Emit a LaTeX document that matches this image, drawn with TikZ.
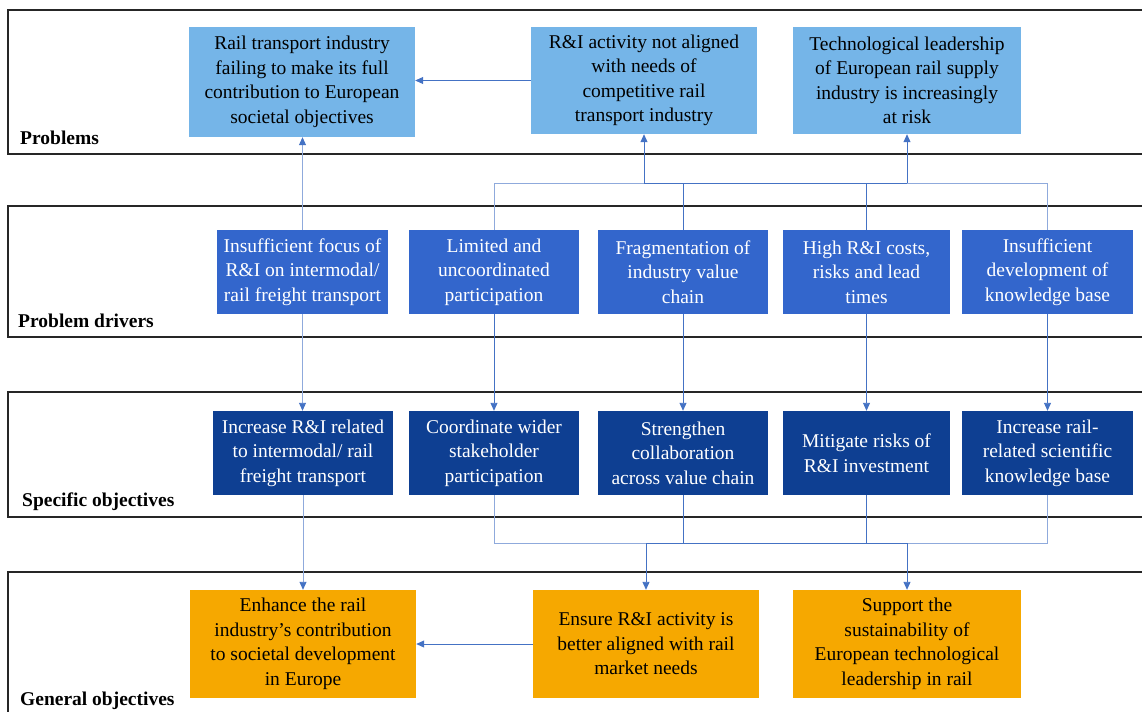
\documentclass[tikz,border=0pt]{standalone}
\usepackage{fontspec}
\setmainfont{Liberation Serif}
\usetikzlibrary{arrows.meta}
\definecolor{probblue}{RGB}{117,181,232}
\definecolor{drvblue}{RGB}{51,102,204}
\definecolor{specblue}{RGB}{14,63,146}
\definecolor{genorange}{RGB}{246,168,0}
\definecolor{linkblue}{RGB}{68,114,196}
\definecolor{buslight}{RGB}{143,170,220}
\begin{document}
\begin{tikzpicture}[x=1pt,y=-1pt,
  band/.style={draw=black!85, line width=1.5pt},
  bandlabel/.style={anchor=base west, inner sep=0pt, font=\fontsize{19.5}{24}\selectfont\bfseries},
  boxtext/.style={inner sep=0pt, align=center, font=\fontsize{19.5}{24.5}\selectfont},
  probbox/.style={boxtext, fill=probblue, text=black, minimum height=107pt},
  drvbox/.style={boxtext, fill=drvblue, text=white, minimum height=84pt},
  specbox/.style={boxtext, fill=specblue, text=white, minimum height=84pt},
  genbox/.style={boxtext, fill=genorange, text=black, minimum height=108pt},
  arr/.style={draw=linkblue, line width=0.9pt, -{Triangle[length=8pt,width=7pt]}},
  arrlight/.style={draw=buslight, line width=0.9pt, -{Triangle[length=8pt,width=7pt,color=linkblue]}},
  link/.style={draw=buslight, line width=0.9pt},
  linkdark/.style={draw=linkblue, line width=0.9pt}]
\useasboundingbox (0,0) rectangle (1142,712);
% bands
\draw[band] (1142,10) -- (8,10) -- (8,154) -- (1142,154);
\draw[band] (1142,206) -- (8,206) -- (8,337) -- (1142,337);
\draw[band] (1142,392) -- (8,392) -- (8,517) -- (1142,517);
\draw[band] (1142,572) -- (8,572) -- (8,712);
\node[bandlabel] (lprob) at (20,144) {Problems};
\node[bandlabel] (ldrv) at (18,327) {Problem drivers};
\node[bandlabel] (lspec) at (22,506) {Specific objectives};
\node[bandlabel] (lgen) at (20,705) {General objectives};
% problems
\node[probbox, minimum width=226pt, minimum height=110pt] (prob1) at (302,82) {Rail transport industry\\failing to make its full\\contribution to European\\societal objectives};
\node[probbox, minimum width=226pt] (prob2) at (644,80.5) {R\&I activity not aligned\\with needs of\\competitive rail\\transport industry};
\node[probbox, minimum width=228pt] (prob3) at (907,80.5) {Technological leadership\\of European rail supply\\industry is increasingly\\at risk};
% problem drivers
\node[drvbox, minimum width=171pt] (drv1) at (302.5,272) {Insufficient focus of\\R\&I on intermodal/\\rail freight transport};
\node[drvbox, minimum width=170pt] (drv2) at (494,272) {Limited and\\uncoordinated\\participation};
\node[drvbox, minimum width=170pt] (drv3) at (683,272) {Fragmentation of\\industry value\\chain};
\node[drvbox, minimum width=167pt] (drv4) at (866.5,272) {High R\&I costs,\\risks and lead\\times};
\node[drvbox, minimum width=171pt] (drv5) at (1047.5,272) {Insufficient\\development of\\knowledge base};
% specific objectives
\node[specbox, minimum width=180pt] (spec1) at (303,453) {Increase R\&I related\\to intermodal/ rail\\freight transport};
\node[specbox, minimum width=170pt] (spec2) at (494,453) {Coordinate wider\\stakeholder\\participation};
\node[specbox, minimum width=170pt] (spec3) at (683,453) {Strengthen\\collaboration\\across value chain};
\node[specbox, minimum width=167pt] (spec4) at (866.5,453) {Mitigate risks of\\R\&I investment};
\node[specbox, minimum width=171pt] (spec5) at (1047.5,453) {Increase rail-\\related scientific\\knowledge base};
% general objectives
\node[genbox, minimum width=226pt] (gen1) at (303,644) {Enhance the rail\\industry’s contribution\\to societal development\\in Europe};
\node[genbox, minimum width=226pt] (gen2) at (646,644) {Ensure R\&I activity is\\better aligned with rail\\market needs};
\node[genbox, minimum width=228pt] (gen3) at (907,644) {Support the\\sustainability of\\European technological\\leadership in rail};
\coordinate (upbus) at (0,183);
\coordinate (lowbus) at (0,543);
% connectors up
\draw[arr] (prob2.west) -- (prob2.west -| prob1.east);
\draw[arrlight] (drv1.north) -- (drv1.north |- prob1.south);
\draw[link] (drv2.north) -- (drv2.north |- upbus) -- (drv5.north |- upbus) -- (drv5.north);
\draw[linkdark] (drv3.north) -- (drv3.north |- upbus);
\draw[linkdark] (drv4.north) -- (drv4.north |- upbus);
\draw[linkdark] (prob2.south |- upbus) -- (prob3.south |- upbus);
\draw[arr] (prob2.south |- upbus) -- (prob2.south);
\draw[arr] (prob3.south |- upbus) -- (prob3.south);
% connectors down
\foreach \i in {2,...,5}
  \draw[arr] (drv\i.south) -- (spec\i.north);
\draw[arrlight] (drv1.south) -- (drv1.south |- spec1.north);
\draw[link] (spec2.south) -- (spec2.south |- lowbus) -- (spec5.south |- lowbus) -- (spec5.south);
\draw[linkdark] (spec3.south) -- (spec3.south |- lowbus);
\draw[linkdark] (spec4.south) -- (spec4.south |- lowbus);
\draw[linkdark] (gen2.north |- lowbus) -- (gen3.north |- lowbus);
\draw[arr] (gen2.north |- lowbus) -- (gen2.north);
\draw[arr] (gen3.north |- lowbus) -- (gen3.north);
\draw[arrlight] (spec1.south) -- (spec1.south |- gen1.north);
\draw[arr] (gen2.west) -- (gen2.west -| gen1.east);
\end{tikzpicture}
\end{document}
